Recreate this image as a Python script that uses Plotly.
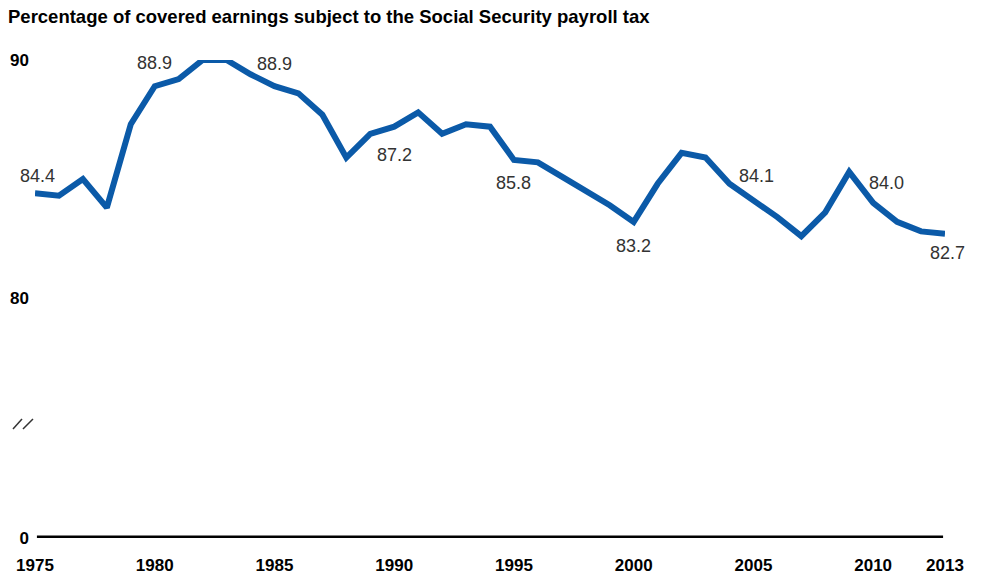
import plotly.graph_objects as go

# ---- data ----
years = list(range(1975, 2014))
values = [84.4, 84.3, 85.0, 83.8, 87.3, 88.9, 89.2, 90.0, 90.0, 89.4,
          88.9, 88.6, 87.7, 85.9, 86.9, 87.2, 87.8, 86.9, 87.3, 87.2,
          85.8, 85.7, 85.1, 84.5, 83.9, 83.2, 84.8, 86.1, 85.9, 84.8,
          84.1, 83.4, 82.6, 83.6, 85.3, 84.0, 83.2, 82.8, 82.7]

label_years = [1975, 1980, 1985, 1990, 1995, 2000, 2005, 2010, 2013]
label_texts = ["84.4", "88.9", "88.9", "87.2", "85.8", "83.2", "84.1", "84.0", "82.7"]

x_tickvals = [1975, 1980, 1985, 1990, 1995, 2000, 2005, 2010, 2013]
x_ticktext = ["1975", "1980", "1985", "1990", "1995", "2000", "2005", "2010", "2013"]

# broken axis: bottom of the axis stands for 0
axis_bottom = 69.92
y_tickvals = [axis_bottom, 80, 90]
y_ticktext = ["0", "80", "90"]

title = "Percentage of covered earnings subject to the Social Security payroll tax"

# ---- styling ----
label_yshift = [17, 23, 22, -28, -23, -24, 24, 20, -19]
label_xshift = [2, 0, 0, 0, 0, 0, 3, 13, 2]
FONT = "Arial, Liberation Sans, sans-serif"
LINE_COLOR = "#0b5aa8"

fig = go.Figure()
fig.add_trace(go.Scatter(
    x=years, y=values, mode="lines",
    line=dict(color=LINE_COLOR, width=6),
    cliponaxis=False, hoverinfo="x+y", showlegend=False,
))

for yr, txt, ys, xs in zip(label_years, label_texts, label_yshift, label_xshift):
    fig.add_annotation(
        x=yr, y=values[years.index(yr)], xref="x", yref="y",
        text=txt, showarrow=False, yshift=ys, xshift=xs,
        font=dict(family=FONT, size=18, color="#333333"),
    )

# baseline at the axis bottom ("0")
fig.add_shape(type="line", xref="x", yref="y",
              x0=1975.08, x1=2012.92, y0=axis_bottom, y1=axis_bottom,
              line=dict(color="black", width=5))

# axis-break marks
for x0, x1 in [(-0.0242, -0.0143), (-0.0132, -0.0022)]:
    fig.add_shape(type="line", xref="paper", yref="y",
                  x0=x0, x1=x1, y0=74.5, y1=74.92,
                  line=dict(color="#333333", width=1.5))

fig.update_layout(
    width=982, height=576,
    margin=dict(l=35, r=37, t=60, b=38, autoexpand=False),
    paper_bgcolor="white", plot_bgcolor="white",
    font=dict(family=FONT, color="black"),
    title=dict(text="<b>" + title + "</b>", x=8 / 982, xanchor="left",
               xref="container", yref="container",
               y=1 - 17 / 576, yanchor="middle",
               font=dict(family=FONT, size=18.5, color="black")),
    xaxis=dict(range=[1975, 2013], tickvals=x_tickvals, ticktext=x_ticktext,
               showgrid=False, zeroline=False, showline=False, automargin=False,
               ticks="", ticklabelstandoff=15,
               tickfont=dict(family=FONT, size=17, color="black", weight="bold")),
    yaxis=dict(range=[axis_bottom, 90], tickvals=y_tickvals, ticktext=y_ticktext,
               showgrid=False, zeroline=False, showline=False, automargin=False,
               ticks="", ticklabelstandoff=5,
               tickfont=dict(family=FONT, size=17, color="black", weight="bold")),
)

fig.write_html(
    "out.html",
    config={"displayModeBar": False},
    post_script="document.body.style.margin='0';document.body.style.padding='0';"
                "document.body.style.overflow='hidden';",
)
